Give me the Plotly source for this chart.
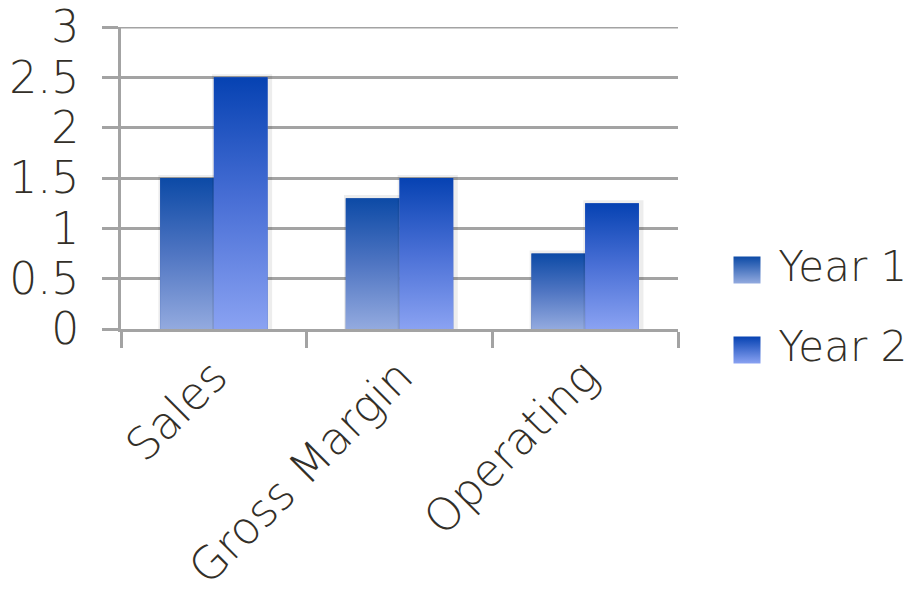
import plotly.graph_objects as go

categories = ["Sales", "Gross Margin", "Operating"]
series_names = ["Year 1", "Year 2"]
year1 = [1.5, 1.3, 0.75]
year2 = [2.5, 1.5, 1.25]
y_ticks = [0, 0.5, 1, 1.5, 2, 2.5, 3]
y_tick_labels = ["0", "0.5", "1", "1.5", "2", "2.5", "3"]

FONT = "DejaVu Sans"
TXT = "#332f28"
GRID = "#a3a3a3"
tops = ["#0c4aa6", "#0642b2"]
bottoms = ["#93aadf", "#8aa2f2"]
mids = ["#4f75c2", "#4a70d6"]

W, H = 917, 602
L = 121
plot_top, plot_bottom, main_right = 27, 329, 678
plot_w = W - L
dom_split = (main_right - L) / plot_w
ydom = [(H - plot_bottom) / H, (H - plot_top) / H]

fig = go.Figure()

for s, vals in enumerate([year1, year2]):
    fig.add_trace(go.Bar(x=categories, y=vals, name=series_names[s],
                         marker=dict(color=mids[s], line=dict(width=0)),
                         showlegend=False, hoverinfo="skip"))

bw = 0.289
for s, vals in enumerate([year1, year2]):
    for i, v in enumerate(vals):
        x0 = i - bw if s == 0 else i
        x1 = x0 + bw
        fig.add_trace(go.Scatter(
            x=[x0 - 0.01, x1 + 0.025, x1 + 0.025, x0 - 0.01, x0 - 0.01],
            y=[0, 0, v + 0.03, v + 0.03, 0],
            xaxis="x3", yaxis="y", fill="toself", mode="lines",
            line=dict(width=0), fillcolor="rgba(0,0,0,0.07)",
            showlegend=False, hoverinfo="skip"))
        fig.add_trace(go.Scatter(
            x=[x0, x1, x1, x0, x0], y=[0, 0, v, v, 0],
            xaxis="x3", yaxis="y", fill="toself", mode="lines",
            line=dict(width=0),
            fillgradient=dict(type="vertical",
                              colorscale=[[0, bottoms[s]], [0.5, mids[s]], [1, tops[s]]]),
            showlegend=False, hoverinfo="skip"))

# custom legend in its own pixel-space subplot on the right
fig.add_trace(go.Scatter(
    x=[747, 747], y=[270, 350], xaxis="x2", yaxis="y2",
    mode="markers+text", text=[" " + n for n in series_names],
    textposition="middle right",
    textfont=dict(family=FONT, size=42, color=TXT, weight=200),
    marker=dict(symbol="square", size=27, color=[tops[0], tops[1]],
                gradient=dict(type="vertical", color=[bottoms[0], bottoms[1]]),
                line=dict(width=0)),
    cliponaxis=False, showlegend=False, hoverinfo="skip"))

fig.update_layout(
    width=W, height=H,
    margin=dict(l=L, r=0, t=0, b=0, autoexpand=False),
    paper_bgcolor="white", plot_bgcolor="rgba(0,0,0,0)",
    barmode="group", bargap=0.42, bargroupgap=0,
    showlegend=False,
    font=dict(family=FONT, color=TXT, size=42),
    xaxis=dict(type="category", domain=[0, dom_split], showline=True,
               linecolor=GRID, linewidth=3, automargin=False, anchor="y",
               ticks="outside", tickson="boundaries", ticklen=16, tickwidth=3,
               tickcolor=GRID, tickangle=-45, showgrid=False,
               tickfont=dict(family=FONT, size=45, color=TXT, weight=200)),
    yaxis=dict(range=[0, 3], domain=ydom, tickvals=y_ticks, ticktext=y_tick_labels,
               showline=True, linecolor=GRID, linewidth=3, automargin=False,
               ticks="outside", ticklen=16, tickwidth=3, tickcolor=GRID,
               showgrid=True, gridcolor=GRID, gridwidth=3, zeroline=False,
               ticklabelstandoff=14,
               tickfont=dict(family=FONT, size=44, color=TXT, weight=200)),
    xaxis3=dict(overlaying="x", range=[-0.5, 2.5], visible=False, anchor="y"),
    xaxis2=dict(domain=[dom_split, 1], range=[main_right, W], visible=False,
                anchor="y2", automargin=False),
    yaxis2=dict(domain=[0, 1], range=[H, 0], visible=False, anchor="x2",
                automargin=False),
    shapes=[dict(type="line", xref="x domain", yref="y", x0=0, x1=1, y0=3, y1=3,
                 line=dict(color=GRID, width=3), layer="below")],
)

fig.write_html("out.html")
